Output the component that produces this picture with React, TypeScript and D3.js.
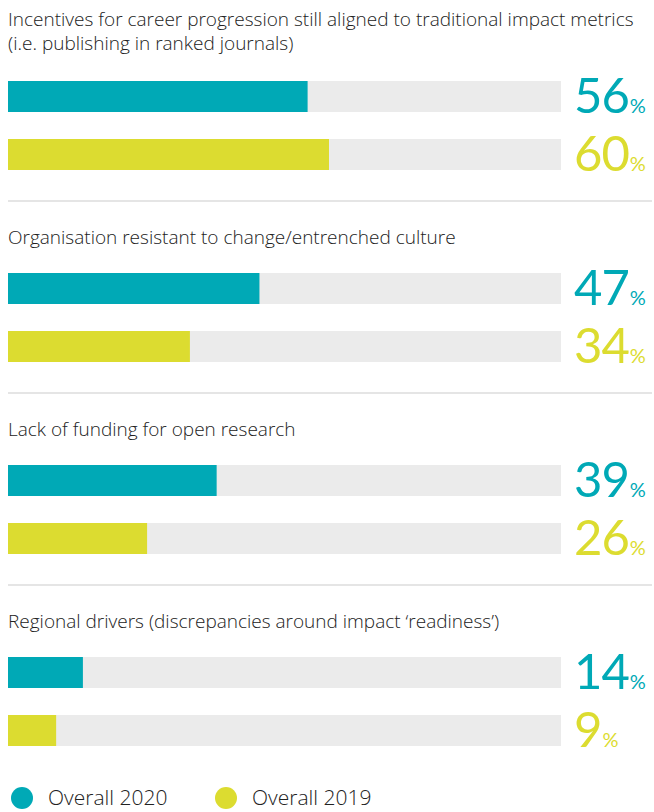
import React from "react";
import * as d3 from "d3";

const categories = [
  ["Incentives for career progression still aligned to traditional impact metrics", "(i.e. publishing in ranked journals)"],
  ["Organisation resistant to change/entrenched culture"],
  ["Lack of funding for open research"],
  ["Regional drivers (discrepancies around impact \u2018readiness\u2019)"],
];
const series2020 = [56, 47, 39, 14];
const series2019 = [60, 34, 26, 9];
const seriesNames = ["Overall 2020", "Overall 2019"];
const colors = ["#00A9B6", "#DCDC30"];

export default function App() {
  const W = 654;
  const H = 812;
  const left = 8;
  const trackRight = 561;
  const x = d3.scaleLinear().domain([0, 100]).range([left, left + 535]);
  const sectionY = d3.scaleLinear().domain([0, 1]).range([81, 273]);
  const font = "'Open Sans', Lato, sans-serif";
  const numFont = "Lato, 'Open Sans', sans-serif";
  const all = [series2020, series2019];
  return (
    <svg width={W} height={H} style={{ position: "absolute", left: 0, top: 0 }}>
      <rect width={W} height={H} fill="#fff" />
      {categories.map((lines, i) => {
        const y0 = sectionY(i);
        const titleBase = i === 0 ? 26 : y0 - 29;
        return (
          <g key={i}>
            {lines.map((t, j) => (
              <text key={j} x={left} y={titleBase + j * 24} fontFamily={font} fontSize={19} fontWeight={300} fill="#222">
                {t}
              </text>
            ))}
            {all.map((s, k) => {
              const by = y0 + k * 58;
              return (
                <g key={k}>
                  <rect x={left} y={by} width={trackRight - left} height={31} fill="#EBEBEB" />
                  <rect x={left} y={by} width={x(s[i]) - left} height={31} fill={colors[k]} />
                  <text x={574} y={by + 32} fontFamily={numFont} fontSize={49} fontWeight={400} fill={colors[k]} letterSpacing={-1}>
                    {s[i]}
                    <tspan fontSize={20} dx={1}>%</tspan>
                  </text>
                </g>
              );
            })}
            {i < categories.length - 1 && (
              <line x1={left} x2={652} y1={y0 + 120} y2={y0 + 120} stroke="#DDDDDD" strokeWidth={1.5} />
            )}
          </g>
        );
      })}
      {seriesNames.map((n, k) => {
        const lx = 22 + k * 204;
        return (
          <g key={n}>
            <circle cx={lx} cy={798} r={11} fill={colors[k]} />
            <text x={lx + 26} y={805} fontFamily={font} fontSize={21} fontWeight={300} fill="#222">
              {n}
            </text>
          </g>
        );
      })}
    </svg>
  );
}
